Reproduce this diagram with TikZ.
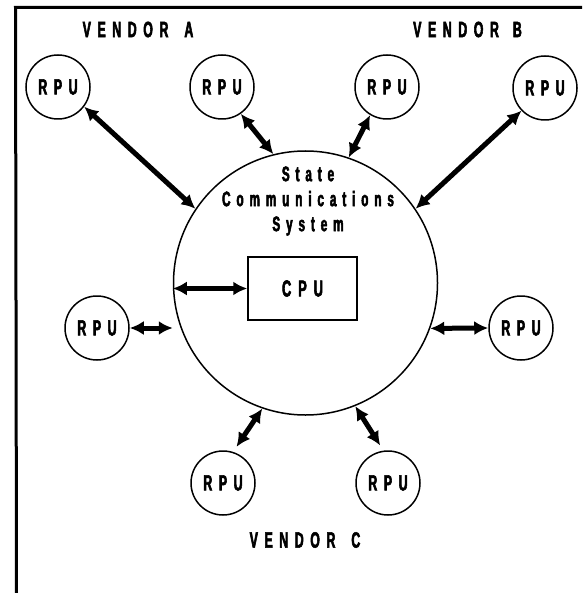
\documentclass[tikz,border=0pt]{standalone}
\usepackage{fontspec}
\setmainfont{Liberation Sans}
\newfontfamily\labfont{Liberation Sans Bold}[FakeStretch=0.56,LetterSpace=30,FakeBold=2.5]
\newfontfamily\txtfont{Liberation Sans Bold}[FakeStretch=0.56,LetterSpace=28,FakeBold=2.5]
\usetikzlibrary{arrows.meta}
\begin{document}
\begin{tikzpicture}[x=1pt,y=-1pt,
  rpu/.style={circle,draw,line width=1.5pt,minimum size=64pt,inner sep=0pt,
    font=\labfont\fontsize{22}{22}\selectfont},
  link/.style={line width=5pt,{Latex[length=14pt,width=14pt]}-{Latex[length=14pt,width=14pt]}},
  vendor/.style={font=\labfont\fontsize{22}{22}\selectfont,inner sep=0pt},
  frame/.style={line width=3pt}]
\useasboundingbox (0,0) rectangle (582,593);
% frame
\coordinate (ftr) at (582,7.5);
\coordinate (ftl) at (15.5,7.5);
\coordinate (fbl) at (16.5,593);
\draw[frame] (ftr) -- (ftl) -- (fbl);
% labels
\node[vendor] (va) at (138,29.5) {VENDOR\hspace{16pt}A};
\node[vendor] (vb) at (467.5,29.5) {VENDOR\hspace{14pt}B};
\node[vendor] (vc) at (305,540) {VENDOR\hspace{16pt}C};
% main circle
\node[circle,draw,line width=1.5pt,minimum size=264pt,inner sep=0pt] (scs) at (305.5,283) {};
\node[align=center,inner sep=0pt,font=\txtfont\fontsize{21}{25}\selectfont] (txt) at (308,201) {State\\Communications\\System};
% CPU
\node[draw,line width=1.5pt,minimum width=109pt,minimum height=63pt,inner sep=0pt,
  font=\labfont\fontsize{23}{23}\selectfont] (cpu) at (302.5,288.5) {CPU};
% RPUs
\node[rpu] (r1) at (58,87) {RPU};
\node[rpu] (r2) at (222,87) {RPU};
\node[rpu] (r3) at (387,87) {RPU};
\node[rpu] (r4) at (545,88) {RPU};
\node[rpu] (r5) at (97,328) {RPU};
\node[rpu] (r6) at (521,328) {RPU};
\node[rpu] (r7) at (223,483) {RPU};
\node[rpu] (r8) at (388,483) {RPU};
% links
\draw[link] (r1.-37) -- (scs.146);
\draw[link] (r2.-55) -- (scs.104);
\draw[link] (r3.-121) -- (scs.71);
\draw[link] (r4.-136) -- (scs.34);
\draw[link] (r5.east) -- (r5.east -| scs.west);
\draw[link] (scs.-20) -- (r6.west);
\draw[link] (cpu.west -| scs.west) -- (cpu.west);
\draw[link,shorten >=6pt] (scs.-109) -- (r7.72);
\draw[link,shorten >=6pt] (scs.-68) -- (r8.98);
\end{tikzpicture}
\end{document}
